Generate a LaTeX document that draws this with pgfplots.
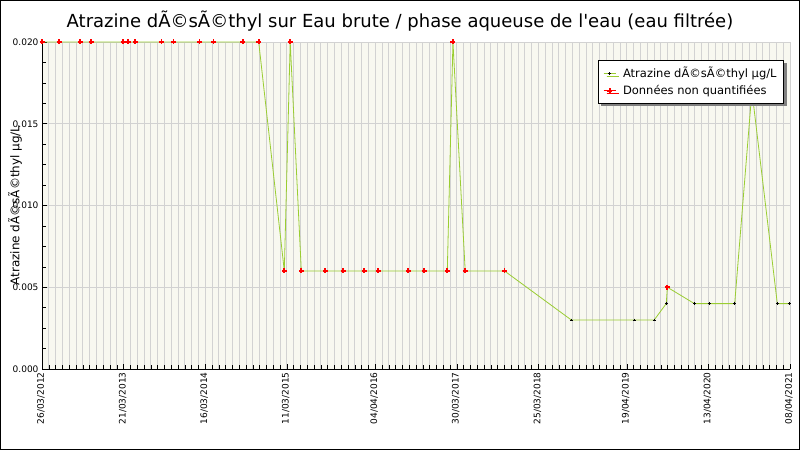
\documentclass[border=0pt]{standalone}
\usepackage{pgfplots}
\pgfplotsset{compat=1.18}
\usetikzlibrary{shadows}
\usepackage{fontspec}
\setmainfont{DejaVu Sans}

\definecolor{plotbg}{RGB}{248,248,240}
\definecolor{gridc}{RGB}{210,210,210}
\definecolor{lineg}{RGB}{154,205,50}

% days since 26/03/2012, value in ug/L
\pgfplotstableread{
d v
0 0.020
76 0.020
169 0.020
217 0.020
358 0.020
380 0.020
411 0.020
527 0.020
580 0.020
695 0.020
757 0.020
885 0.020
956 0.020
1069 0.006
1095 0.020
1144 0.006
1250 0.006
1329 0.006
1422 0.006
1484 0.006
1616 0.006
1686 0.006
1788 0.006
1813 0.020
1867 0.006
2040 0.006
2335 0.003
2613 0.003
2701 0.003
2754 0.004
2759 0.005
2878 0.004
2944 0.004
3056 0.004
3132 0.017
3244 0.004
3297 0.004
}\allpts

\pgfplotstableread{
d v
2335 0.003
2613 0.003
2701 0.003
2754 0.004
2878 0.004
2944 0.004
3056 0.004
3132 0.017
3244 0.004
3297 0.004
}\quantpts

\pgfplotstableread{
d v
0 0.020
76 0.020
169 0.020
217 0.020
358 0.020
380 0.020
411 0.020
527 0.020
580 0.020
695 0.020
757 0.020
885 0.020
956 0.020
1069 0.006
1095 0.020
1144 0.006
1250 0.006
1329 0.006
1422 0.006
1484 0.006
1616 0.006
1686 0.006
1788 0.006
1813 0.020
1867 0.006
2040 0.006
2759 0.005
}\nqpts

\begin{document}
\begin{tikzpicture}
\useasboundingbox (0,0) rectangle (800pt,450pt);
\fill[white] (0,0) rectangle (800pt,450pt);
\draw[line width=1pt] (0.5pt,0.5pt) rectangle (799.5pt,449.5pt);
\node[font=\fontsize{18}{21}\selectfont] at (400pt,429pt)
  {Atrazine dÃ©sÃ©thyl sur Eau brute / phase aqueuse de l\textquotesingle eau (eau filtrée)};
\begin{axis}[
  at={(42pt,81pt)}, anchor=south west,
  scale only axis, width=748pt, height=327pt,
  xmin=0, xmax=3300, ymin=0, ymax=0.02,
  axis x line*=bottom, axis y line*=left,
  axis line style={black, line width=0.8pt},
  axis background/.style={fill=plotbg},
  xtick={0,360,720,1080,1470,1830,2190,2580,2940,3300},
  xticklabels={26/03/2012,21/03/2013,16/03/2014,11/03/2015,04/04/2016,30/03/2017,25/03/2018,19/04/2019,13/04/2020,08/04/2021},
  minor xtick={0,30,...,3300},
  ytick={0,0.005,0.01,0.015,0.02},
  yticklabels={0.000,0.005,0.010,0.015,0.020},
  minor ytick={0.00125,0.0025,0.00375,0.00625,0.0075,0.00875,0.01125,0.0125,0.01375,0.01625,0.0175,0.01875},
  scaled y ticks=false,
  xmajorgrids, xminorgrids, ymajorgrids,
  grid style={gridc, line width=0.9pt},
  tick align=inside,
  tick style={black, line width=0.6pt},
  major tick length=5pt, minor tick length=4pt,
  tick label style={font=\fontsize{9}{10}\selectfont},
  xticklabel style={rotate=90, anchor=east, yshift=1pt},
  ylabel={Atrazine dÃ©sÃ©thyl µg/L},
  ylabel style={at={(axis description cs:-0.036,0.5)}, anchor=center, font=\fontsize{12}{14}\selectfont},
  legend image code/.code={\draw[mark repeat=2,mark phase=2,#1] plot coordinates {(0pt,0pt) (6pt,0pt) (12pt,0pt)};},
  legend style={at={(rel axis cs:0.992,0.945)}, anchor=north east,
    draw=black, line width=0.8pt, fill=white,
    font=\fontsize{11.5}{13}\selectfont,
    drop shadow={shadow xshift=3pt, shadow yshift=-3pt, fill=gray, opacity=1},
    inner xsep=5pt, inner ysep=5pt, row sep=2pt,
    /tikz/every odd column/.append style={column sep=5pt}},
  legend cell align=left,
]
\addplot[lineg, line width=0.8pt, forget plot] table[x=d, y=v] {\allpts};
\addplot[only marks, mark=+, mark size=1.4pt, black, mark options={line width=0.7pt}, forget plot] table[x=d, y=v] {\quantpts};
\addplot[only marks, mark=+, mark size=2.5pt, red, mark options={line width=1.8pt}, forget plot] table[x=d, y=v] {\nqpts};
\addlegendimage{lineg, line width=0.8pt, mark=+, mark options={black, mark size=1.4pt, line width=0.7pt}}
\addlegendentry{Atrazine dÃ©sÃ©thyl µg/L}
\addlegendimage{red, line width=0.8pt, mark=+, mark options={red, mark size=2.5pt, line width=1.8pt}}
\addlegendentry{Données non quantifiées}
\end{axis}
\end{tikzpicture}
\end{document}
